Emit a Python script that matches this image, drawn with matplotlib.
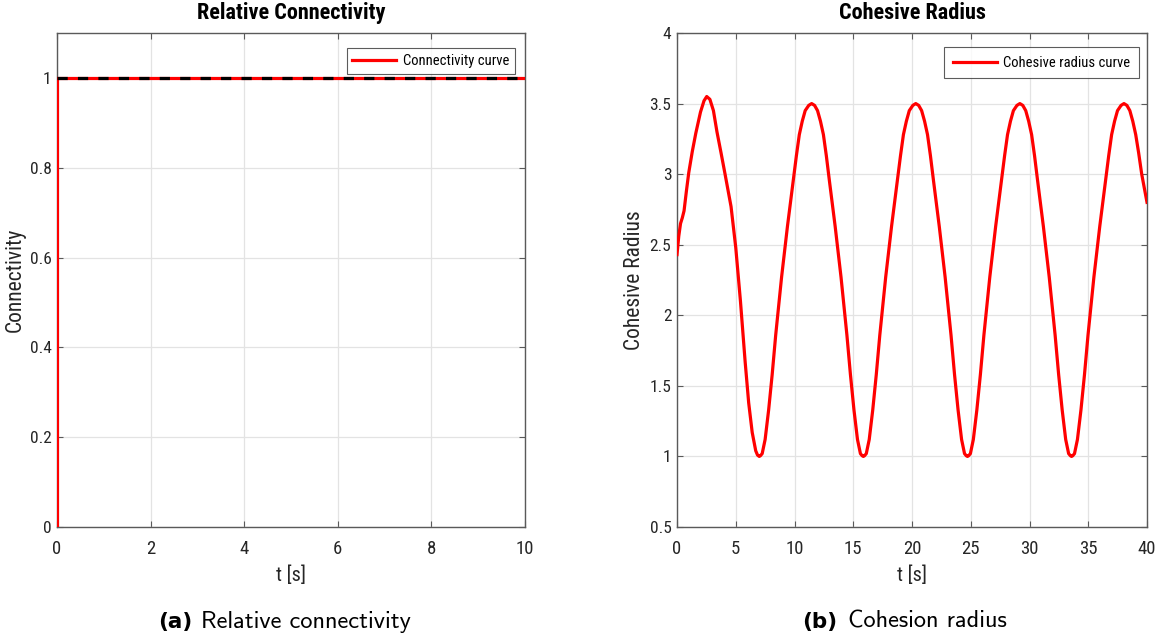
import matplotlib
matplotlib.use("Agg")
import matplotlib.pyplot as plt
from matplotlib import font_manager

# ---- data ----
conn_t = [0.0, 0.0, 10.0]
conn_val = [0.0, 1.0, 1.0]
ref_level = 1.0

radius_t = [
    0.0, 0.15, 0.3, 0.45, 0.6, 0.8, 1.0, 1.3, 1.6, 2.0, 2.3, 2.53, 2.8, 3.1, 3.4,
    3.75, 4.09, 4.6, 5.0, 5.4, 5.8, 6.1, 6.4, 6.7, 6.85, 7.0,
    7.1, 7.25, 7.5, 7.8, 8.1, 8.4, 8.9, 9.4, 9.9, 10.16, 10.41, 10.66, 10.91, 11.21, 11.46,
    11.71, 11.96, 12.21, 12.46, 12.71, 12.96, 13.46, 13.96, 14.46, 14.76, 15.06, 15.36, 15.61, 15.76, 15.86,
    15.96, 16.11, 16.36, 16.66, 16.96, 17.26, 17.76, 18.26, 18.76, 19.02, 19.27, 19.52, 19.77, 20.07, 20.32,
    20.57, 20.82, 21.07, 21.32, 21.57, 21.82, 22.32, 22.82, 23.32, 23.62, 23.92, 24.22, 24.47, 24.62, 24.72,
    24.82, 24.97, 25.22, 25.52, 25.82, 26.12, 26.62, 27.12, 27.62, 27.88, 28.13, 28.38, 28.63, 28.93, 29.18,
    29.43, 29.68, 29.93, 30.18, 30.43, 30.68, 31.18, 31.68, 32.18, 32.48, 32.78, 33.08, 33.33, 33.48, 33.58,
    33.68, 33.83, 34.08, 34.38, 34.68, 34.98, 35.48, 35.98, 36.48, 36.74, 36.99, 37.24, 37.49, 37.79, 38.04,
    38.29, 38.54, 38.79, 39.04, 39.29, 39.55, 40.0,
]
radius_val = [
    2.43, 2.56, 2.65, 2.69, 2.74, 2.88, 3.01, 3.16, 3.29, 3.44, 3.52, 3.55, 3.53, 3.45, 3.3,
    3.15, 3.0, 2.77, 2.48, 2.1, 1.67, 1.38, 1.17, 1.04, 1.01, 1.0,
    1.005, 1.02, 1.12, 1.33, 1.58, 1.86, 2.27, 2.63, 2.96, 3.13, 3.28, 3.375, 3.45, 3.487, 3.5,
    3.487, 3.45, 3.375, 3.28, 3.13, 2.96, 2.63, 2.27, 1.86, 1.58, 1.33, 1.12, 1.02, 1.005, 1.0,
    1.005, 1.02, 1.12, 1.33, 1.58, 1.86, 2.27, 2.63, 2.96, 3.13, 3.28, 3.375, 3.45, 3.487, 3.5,
    3.487, 3.45, 3.375, 3.28, 3.13, 2.96, 2.63, 2.27, 1.86, 1.58, 1.33, 1.12, 1.02, 1.005, 1.0,
    1.005, 1.02, 1.12, 1.33, 1.58, 1.86, 2.27, 2.63, 2.96, 3.13, 3.28, 3.375, 3.45, 3.487, 3.5,
    3.487, 3.45, 3.375, 3.28, 3.13, 2.96, 2.63, 2.27, 1.86, 1.58, 1.33, 1.12, 1.02, 1.005, 1.0,
    1.005, 1.02, 1.12, 1.33, 1.58, 1.86, 2.27, 2.63, 2.96, 3.13, 3.28, 3.375, 3.45, 3.487, 3.5,
    3.487, 3.45, 3.375, 3.28, 3.15, 3.0, 2.8,
]

conn_xticks = [0, 2, 4, 6, 8, 10]
conn_yticks = [0, 0.2, 0.4, 0.6, 0.8, 1]
conn_yticklabels = ["0", "0.2", "0.4", "0.6", "0.8", "1"]
rad_xticks = [0, 5, 10, 15, 20, 25, 30, 35, 40]
rad_yticks = [0.5, 1, 1.5, 2, 2.5, 3, 3.5, 4]
rad_yticklabels = ["0.5", "1", "1.5", "2", "2.5", "3", "3.5", "4"]

# ---- fonts ----
available = {f.name for f in font_manager.fontManager.ttflist}
family = [f for f in ["Liberation Sans Narrow", "Roboto Condensed", "Liberation Sans"]
          if f in available] or ["DejaVu Sans"]
cap_font = "cmss10" if "cmss10" in available else "DejaVu Sans"

plt.rcParams["font.family"] = family
plt.rcParams["axes.unicode_minus"] = False

TXT = "#262626"
SPINE = "#5a5a5a"
GRID = "#e3e3e3"
RED = "#ff0000"

fig = plt.figure(figsize=(11.61, 6.37), dpi=100)
fig.patch.set_facecolor("white")

ax1 = fig.add_axes([57 / 1161, 1 - 527 / 637, 468 / 1161, 494 / 637])
ax2 = fig.add_axes([677 / 1161, 1 - 527 / 637, 470 / 1161, 494 / 637])


def style(ax):
    ax.grid(True, color=GRID, linewidth=0.9)
    ax.set_axisbelow(True)
    for s in ax.spines.values():
        s.set_color(SPINE)
        s.set_linewidth(1.0)
    ax.tick_params(direction="in", top=True, right=True, length=4,
                   color=SPINE, labelcolor=TXT)
    ax.tick_params(axis="x", pad=9, labelsize=13.5)
    ax.tick_params(axis="y", pad=4, labelsize=12.5)


def legend(ax, anchor, bpad):
    lg = ax.legend(loc="upper right", fontsize=10.5, frameon=True, fancybox=False,
                   handlelength=3.0, borderpad=bpad, handletextpad=0.45,
                   borderaxespad=0.0, bbox_to_anchor=anchor)
    lg.get_frame().set_edgecolor("#333333")
    lg.get_frame().set_linewidth(0.8)
    for t in lg.get_texts():
        t.set_color("black")
    return lg


# Relative connectivity
ax1.plot(conn_t, conn_val, color=RED, linewidth=2.3, label="Connectivity curve",
         solid_joinstyle="miter", zorder=3)
ax1.axhline(ref_level, color="black", linewidth=2.3, linestyle=(0, (3.2, 3.2)), zorder=4)
ax1.set_xlim(0, 10)
ax1.set_ylim(0, 1.1)
ax1.set_xticks(conn_xticks)
ax1.set_yticks(conn_yticks)
ax1.set_yticklabels(conn_yticklabels)
style(ax1)
ax1.set_title("Relative Connectivity", fontsize=16, fontweight="bold", color="black", pad=10)
ax1.set_xlabel("t [s]", fontsize=14.5, color=TXT, labelpad=6)
ax1.set_ylabel("Connectivity", fontsize=15.5, color=TXT, va="center")
ax1.yaxis.set_label_coords(-42 / 468, 0.5)
legend(ax1, (0.9786, 0.9696), 0.4)

# Cohesive radius
ax2.plot(radius_t, radius_val, color=RED, linewidth=2.3, label="Cohesive radius curve", zorder=3)
ax2.set_xlim(0, 40)
ax2.set_ylim(0.5, 4)
ax2.set_xticks(rad_xticks)
ax2.set_yticks(rad_yticks)
ax2.set_yticklabels(rad_yticklabels)
style(ax2)
ax2.set_title("Cohesive Radius", fontsize=16, fontweight="bold", color="black", pad=10)
ax2.set_xlabel("t [s]", fontsize=14.5, color=TXT, labelpad=6)
ax2.set_ylabel("Cohesive Radius", fontsize=15.5, color=TXT, va="center")
ax2.yaxis.set_label_coords(-42 / 470, 0.5)
legend(ax2, (0.983, 0.9717), 0.6)

# Sub-figure captions
cap_y = 1 - 622 / 637
fig.text(175 / 1161, cap_y, "(a)", fontsize=15.5, fontweight="bold",
         family="DejaVu Sans", color="black", ha="center", va="center")
fig.text(201 / 1161, cap_y, "Relative connectivity", fontsize=17.5,
         family=cap_font, color="black", ha="left", va="center")
fig.text(820 / 1161, cap_y, "(b)", fontsize=15.5, fontweight="bold",
         family="DejaVu Sans", color="black", ha="center", va="center")
fig.text(848 / 1161, cap_y, "Cohesion radius", fontsize=17.5,
         family=cap_font, color="black", ha="left", va="center")

fig.savefig("out.png", dpi=100, facecolor="white")
